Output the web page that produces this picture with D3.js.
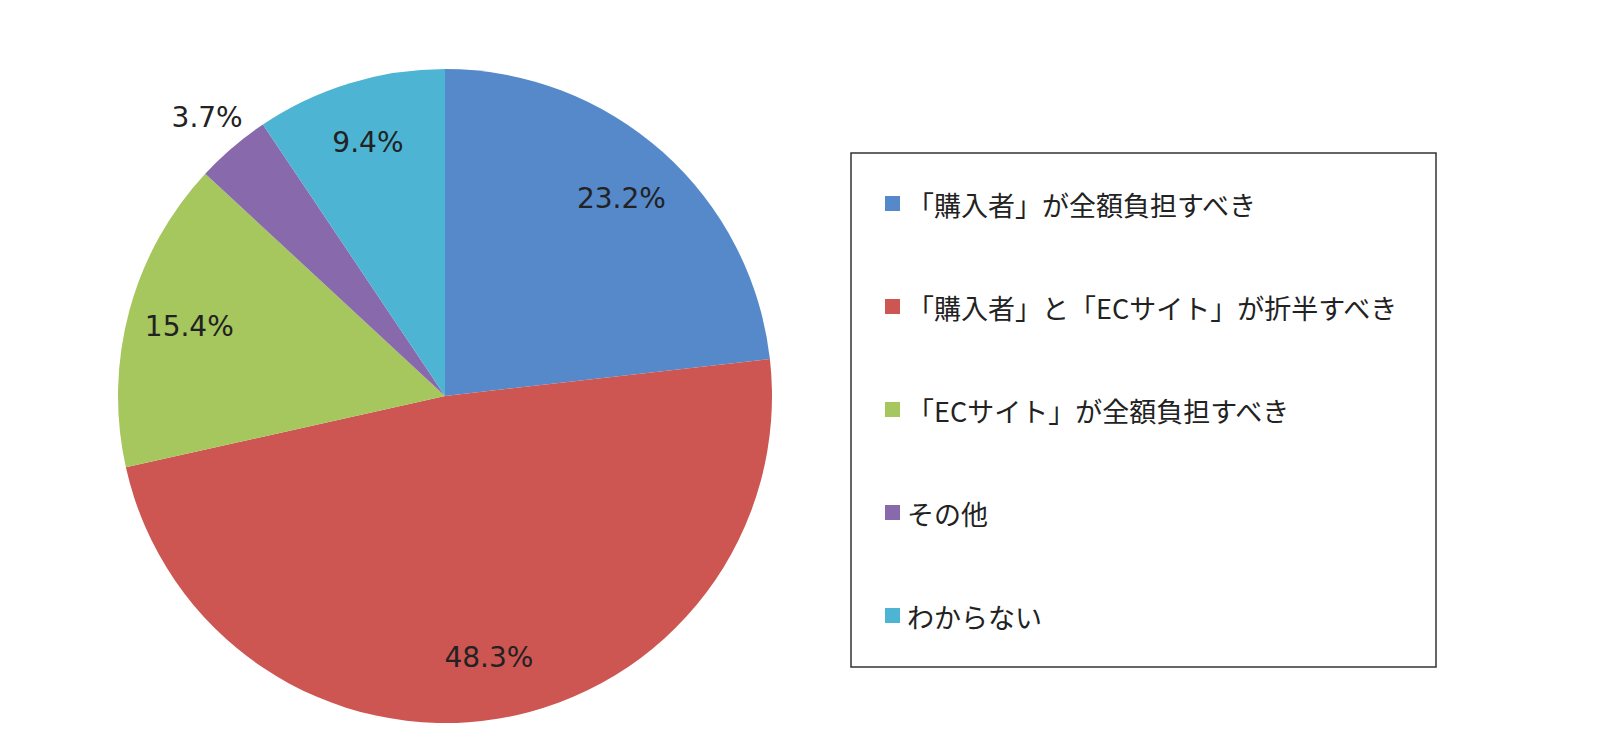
<!DOCTYPE html>
<html>
<head>
<meta charset="utf-8">
<script src="https://cdn.jsdelivr.net/npm/d3@7"></script>
<style>
  html, body { margin: 0; padding: 0; background: #fff; }
  svg { display: block; }
</style>
</head>
<body>
<svg id="chart" width="1600" height="756"></svg>
<script>
const width = 1600;
const height = 756;

// Data
const categories = [
  "「購入者」が全額負担すべき",
  "「購入者」と「ECサイト」が折半すべき",
  "「ECサイト」が全額負担すべき",
  "その他",
  "わからない"
];
const values = [23.2, 48.3, 15.4, 3.7, 9.4];
const colors = ["#5589CA", "#CD5652", "#A6C65E", "#8869AB", "#4DB5D3"];
// labels that sit outside the pie
const outsideLabel = [false, false, false, true, false];

const data = categories.map((c, i) => ({ name: c, value: values[i], color: colors[i], outside: outsideLabel[i] }));

const svg = d3.select('#chart');

const cx = 445, cy = 396, radius = 327;

const pie = d3.pie()
  .value(d => d.value)
  .sort(null);

const arc = d3.arc()
  .innerRadius(0)
  .outerRadius(radius);

const labelArc = d3.arc()
  .innerRadius(radius * 0.81)
  .outerRadius(radius * 0.81);

const outerLabelArc = d3.arc()
  .innerRadius(radius * 1.12)
  .outerRadius(radius * 1.12);

const g = svg.append("g")
  .attr("transform", `translate(${cx},${cy})`);

const arcs = pie(data);

// Slices
g.selectAll("path")
  .data(arcs)
  .enter().append("path")
  .attr("d", arc)
  .attr("fill", d => d.data.color);

// Percent labels
g.selectAll("text.pct")
  .data(arcs)
  .enter().append("text")
  .attr("class", "pct")
  .attr("transform", d => `translate(${(d.data.outside ? outerLabelArc : labelArc).centroid(d)})`)
  .attr("text-anchor", "middle")
  .attr("dominant-baseline", "central")
  .style("font-family", "'DejaVu Sans', Verdana, sans-serif")
  .style("font-size", "28px")
  .style("fill", "#222")
  .text(d => d.data.value.toFixed(1) + "%");

// Legend
const legend = svg.append("g")
  .attr("transform", "translate(851,153)");

legend.append("rect")
  .attr("width", 585)
  .attr("height", 514)
  .attr("fill", "none")
  .attr("stroke", "#333")
  .attr("stroke-width", 1.5);

const legendY = d3.scalePoint()
  .domain(categories)
  .range([51, 463]);

const item = legend.selectAll("g.item")
  .data(data)
  .enter().append("g")
  .attr("class", "item")
  .attr("transform", d => `translate(0,${legendY(d.name)})`);

item.append("rect")
  .attr("x", 34)
  .attr("y", -8)
  .attr("width", 15)
  .attr("height", 15)
  .attr("fill", d => d.color);

item.append("text")
  .attr("x", 56)
  .attr("y", 0)
  .attr("dominant-baseline", "central")
  .style("font-family", "'Noto Sans CJK JP', sans-serif")
  .style("font-size", "27px")
  .style("fill", "#222")
  .text(d => d.name);
</script>
</body>
</html>
